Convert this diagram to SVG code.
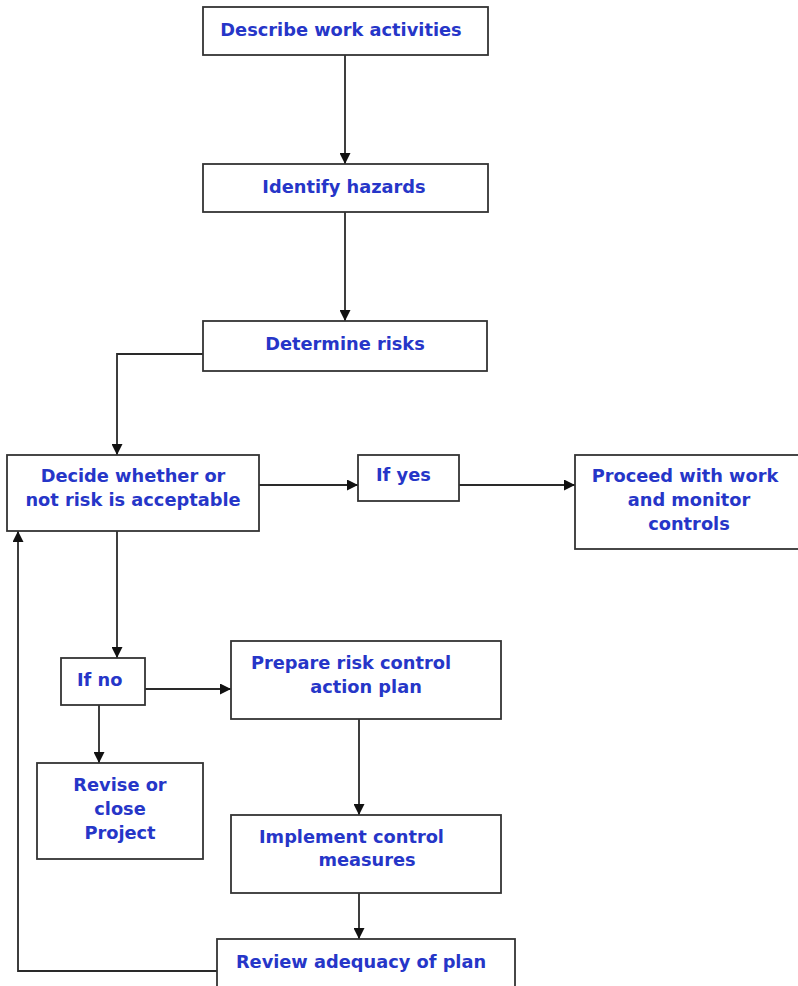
<svg xmlns="http://www.w3.org/2000/svg" width="798" height="986" viewBox="0 0 798 986">
  <style>
    .box { fill: #ffffff; stroke: #333333; stroke-width: 1.8; }
    .lbl { font-family: "DejaVu Sans", "Liberation Sans", sans-serif; font-weight: bold; font-size: 17.8px; fill: #2636c8; }
    .mid { text-anchor: middle; }
    .wire { fill: none; stroke: #2a2a2a; stroke-width: 1.8; }
  </style>
  <defs>
    <marker id="arrow" viewBox="0 0 10 10" refX="10" refY="5" markerWidth="11" markerHeight="11" markerUnits="userSpaceOnUse" orient="auto">
      <path d="M0,0 L10,5 L0,10 Z" fill="#111111"/>
    </marker>
  </defs>
  <rect width="798" height="986" fill="#ffffff"/>

  <g id="connectors">
    <line class="wire" x1="345" y1="55" x2="345" y2="164" marker-end="url(#arrow)"/>
    <line class="wire" x1="345" y1="212" x2="345" y2="321" marker-end="url(#arrow)"/>
    <polyline class="wire" points="203,354 117,354 117,455" marker-end="url(#arrow)"/>
    <line class="wire" x1="259" y1="485" x2="358" y2="485" marker-end="url(#arrow)"/>
    <line class="wire" x1="459" y1="485" x2="575" y2="485" marker-end="url(#arrow)"/>
    <line class="wire" x1="117" y1="531" x2="117" y2="658" marker-end="url(#arrow)"/>
    <line class="wire" x1="145" y1="689" x2="231" y2="689" marker-end="url(#arrow)"/>
    <line class="wire" x1="99" y1="705" x2="99" y2="763" marker-end="url(#arrow)"/>
    <line class="wire" x1="359" y1="719" x2="359" y2="815" marker-end="url(#arrow)"/>
    <line class="wire" x1="359" y1="893" x2="359" y2="939" marker-end="url(#arrow)"/>
    <polyline class="wire" points="217,971 18,971 18,531" marker-end="url(#arrow)"/>
  </g>

  <g id="describe">
    <rect class="box" x="203" y="7" width="285" height="48"/>
    <text class="lbl mid" x="341" y="36">Describe work activities</text>
  </g>
  <g id="identify">
    <rect class="box" x="203" y="164" width="285" height="48"/>
    <text class="lbl mid" x="344" y="193">Identify hazards</text>
  </g>
  <g id="determine">
    <rect class="box" x="203" y="321" width="284" height="50"/>
    <text class="lbl mid" x="345" y="350">Determine risks</text>
  </g>
  <g id="decide">
    <rect class="box" x="7" y="455" width="252" height="76"/>
    <text class="lbl mid" x="133" y="482">Decide whether or</text>
    <text class="lbl mid" x="133" y="506">not risk is acceptable</text>
  </g>
  <g id="if-yes">
    <rect class="box" x="358" y="455" width="101" height="46"/>
    <text class="lbl" x="376" y="481">If yes</text>
  </g>
  <g id="proceed">
    <rect class="box" x="575" y="455" width="230" height="94"/>
    <text class="lbl mid" x="685" y="482">Proceed with work</text>
    <text class="lbl mid" x="689" y="506">and monitor</text>
    <text class="lbl mid" x="689" y="530">controls</text>
  </g>
  <g id="if-no">
    <rect class="box" x="61" y="658" width="84" height="47"/>
    <text class="lbl" x="77" y="686">If no</text>
  </g>
  <g id="prepare">
    <rect class="box" x="231" y="641" width="270" height="78"/>
    <text class="lbl" x="251" y="669">Prepare risk control</text>
    <text class="lbl mid" x="366" y="693">action plan</text>
  </g>
  <g id="revise">
    <rect class="box" x="37" y="763" width="166" height="96"/>
    <text class="lbl mid" x="120" y="791">Revise or</text>
    <text class="lbl mid" x="120" y="815">close</text>
    <text class="lbl mid" x="120" y="839">Project</text>
  </g>
  <g id="implement">
    <rect class="box" x="231" y="815" width="270" height="78"/>
    <text class="lbl" x="259" y="843">Implement control</text>
    <text class="lbl mid" x="367" y="866">measures</text>
  </g>
  <g id="review">
    <rect class="box" x="217" y="939" width="298" height="60"/>
    <text class="lbl mid" x="361" y="968">Review adequacy of plan</text>
  </g>
</svg>
